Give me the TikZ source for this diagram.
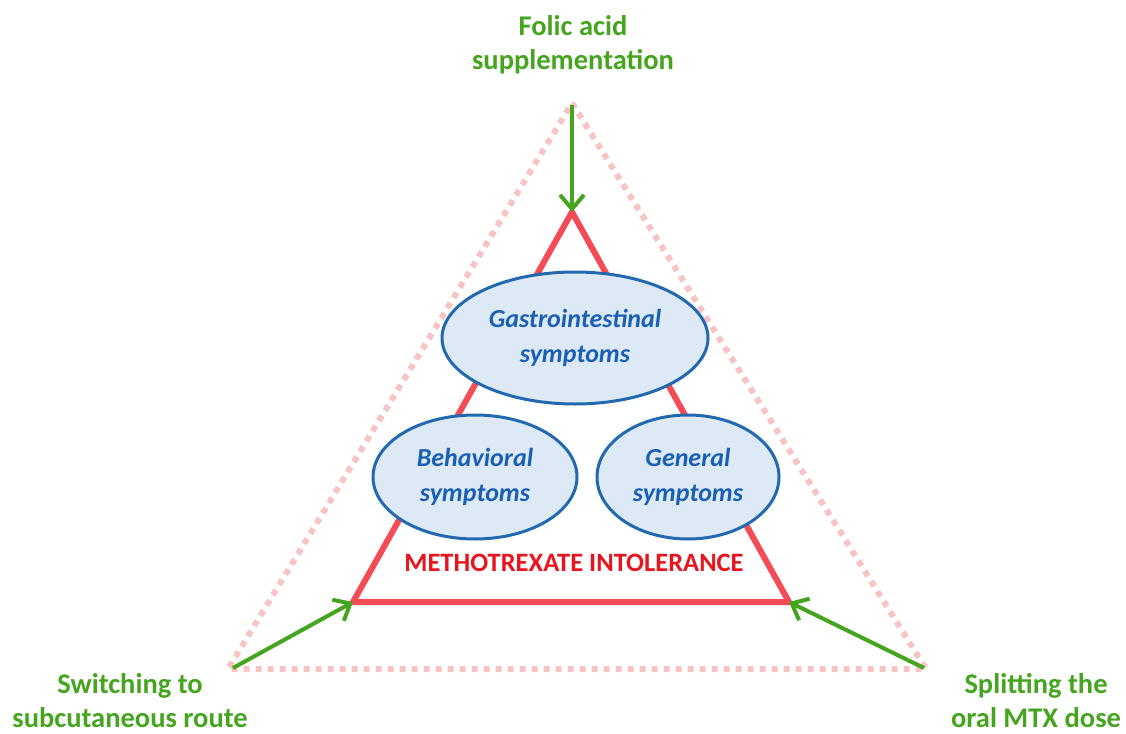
\documentclass[tikz,border=0pt]{standalone}
\usepackage{fontspec}
\setmainfont{Carlito}
\usetikzlibrary{arrows.meta,shapes.geometric}
\definecolor{agreen}{RGB}{70,165,30}
\definecolor{tred}{RGB}{245,75,85}
\definecolor{tpink}{RGB}{248,195,195}
\definecolor{efill}{RGB}{222,233,246}
\definecolor{eborder}{RGB}{35,105,175}
\definecolor{etext}{RGB}{25,95,180}
\definecolor{rtext}{RGB}{232,20,30}
\tikzset{
  outertri/.style={draw=tpink,line width=6pt,dash pattern=on 6pt off 6pt},
  innertri/.style={draw=tred,line width=6pt,line join=miter},
  sympt/.style={ellipse,draw=eborder,fill=efill,line width=3pt,inner sep=0pt,
     text=etext,font=\fontsize{26}{35}\selectfont\bfseries\itshape,align=center},
  remedy/.style={text=agreen,font=\fontsize{28.5}{34}\selectfont\bfseries,align=center,inner sep=0pt},
  remarrow/.style={draw=agreen,line width=4pt,-{Straight Barb[length=14pt,width=24pt,line width=4pt]}},
}
\begin{document}
\begin{tikzpicture}[x=1pt,y=-1pt]
\useasboundingbox (0,0) rectangle (1126,733);
\coordinate (oA) at (572,103);
\coordinate (oL) at (228,669);
\coordinate (oR) at (926,669);
\coordinate (iA) at (572,212);
\coordinate (iL) at (353,602);
\coordinate (iR) at (789,602);
\draw[outertri] (oA) -- (oR) -- (oL) -- cycle;
\draw[innertri] (iA) -- (iR) -- (iL) -- cycle;
\node[sympt,minimum width=266pt,minimum height=132pt] (gi) at (575,338) {Gastrointestinal\\symptoms};
\node[sympt,minimum width=204pt,minimum height=124pt] (beh) at (475,477) {Behavioral\\symptoms};
\node[sympt,minimum width=182pt,minimum height=124pt] (gen) at (688,477) {General\\symptoms};
\node[text=rtext,font=\fontsize{26.5}{30}\selectfont\bfseries,inner sep=0pt] (mtx) at (574,563) {METHOTREXATE INTOLERANCE};
\node[remedy] (folic) at (573,45) {Folic acid\\supplementation};
\node[remedy] (sc) at (130,701) {Switching to\\subcutaneous route};
\node[remedy] (split) at (1036,701) {Splitting the\\oral MTX dose};
\coordinate (s1) at (572,105);
\coordinate (s2) at (233,668);
\coordinate (s3) at (924,668);
\draw[remarrow] (s1) -- (iA);
\draw[remarrow] (s2) -- (iL);
\draw[remarrow] (s3) -- (iR);
\end{tikzpicture}
\end{document}
